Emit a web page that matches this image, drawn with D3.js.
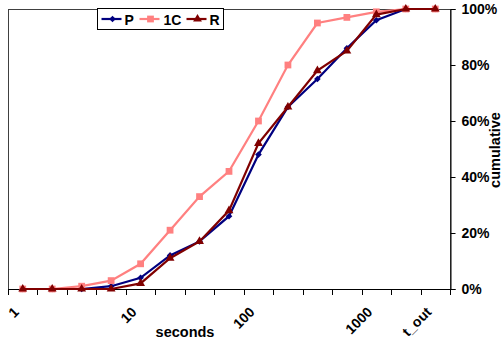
<!DOCTYPE html>
<html>
<head>
<meta charset="utf-8">
<script src="https://cdn.jsdelivr.net/npm/d3@7/dist/d3.min.js"></script>
<style>
  body { margin: 0; background: #fff; }
  svg { display: block; font-family: "Liberation Sans", Arial, sans-serif; font-weight: bold; }
</style>
</head>
<body>
<svg id="chart" width="503" height="343"></svg>
<script>
// x categories (log-ish bins), only some carry a label
var tickLabels = ["1", "", "", "", "10", "", "", "", "100", "", "", "", "1000", "", "t_out"];
var seriesNames = ["P", "1C", "R"];
// cumulative percentages
var valuesP = [0, 0, 0, 1, 4, 12, 17, 26, 48, 65, 75, 86, 96, 100, 100];
var values1C = [0, 0, 1, 3, 9, 21, 33, 42, 60, 80, 95, 97, 99, 100, 100];
var valuesR = [0, 0, 0, 0, 2, 11, 17, 28, 52, 65, 78, 85, 98, 100, 100];
var yTicks = [0, 20, 40, 60, 80, 100];

var series = [
  { name: seriesNames[0], values: valuesP, color: "#000080", symbol: "diamond" },
  { name: seriesNames[1], values: values1C, color: "#ff8080", symbol: "square" },
  { name: seriesNames[2], values: valuesR, color: "#800000", symbol: "triangle" },
];

var dimensions = {
  width: 503,
  height: 343,
  margin: { top: 9, right: 53, bottom: 54, left: 8 },
};
dimensions.boundedWidth =
  dimensions.width - dimensions.margin.left - dimensions.margin.right;
dimensions.boundedHeight =
  dimensions.height - dimensions.margin.top - dimensions.margin.bottom;

var svg = d3.select("#chart");

var xScale = d3
  .scaleBand()
  .domain(d3.range(tickLabels.length))
  .range([0, dimensions.boundedWidth]);

var yScale = d3
  .scaleLinear()
  .domain([0, 100])
  .range([dimensions.boundedHeight, 0]);

var xAt = (i) => xScale(i) + xScale.bandwidth() / 2;

var bounds = svg
  .append("g")
  .attr("transform", `translate(${dimensions.margin.left},${dimensions.margin.top})`);

// plot area frame
bounds
  .append("rect")
  .attr("x", 0.5)
  .attr("y", 0.5)
  .attr("width", dimensions.boundedWidth)
  .attr("height", dimensions.boundedHeight)
  .attr("fill", "none")
  .attr("stroke", "#404040")
  .attr("stroke-width", 1);

// x axis: ticks between categories, labels rotated
var xAxisG = bounds
  .append("g")
  .attr("transform", `translate(0,${dimensions.boundedHeight})`);
xAxisG
  .append("line")
  .attr("x1", 0)
  .attr("x2", dimensions.boundedWidth)
  .attr("y1", 0.5)
  .attr("y2", 0.5)
  .attr("stroke", "#000");
xAxisG
  .selectAll(".xtick")
  .data(d3.range(tickLabels.length + 1))
  .enter()
  .append("line")
  .attr("x1", (d) => Math.round(d * xScale.step()) + 0.5)
  .attr("x2", (d) => Math.round(d * xScale.step()) + 0.5)
  .attr("y1", 0)
  .attr("y2", 6)
  .attr("stroke", "#000");
xAxisG
  .selectAll(".xlabel")
  .data(tickLabels)
  .enter()
  .append("text")
  .attr("text-anchor", "end")
  .attr("font-size", 14)
  .attr("transform", (d, i) => `translate(${xAt(i) - 3},${24}) rotate(-45)`)
  .text((d) => d);

// y axis on the right
var yAxis = d3
  .axisRight(yScale)
  .tickValues(yTicks)
  .tickSize(5)
  .tickPadding(6)
  .tickFormat((d) => d + "%");
var yAxisG = bounds
  .append("g")
  .attr("transform", `translate(${dimensions.boundedWidth + 0.5},0)`)
  .call(yAxis);
yAxisG.select(".domain").attr("stroke", "#000");
yAxisG.selectAll(".tick line").attr("stroke", "#000");
yAxisG
  .selectAll(".tick text")
  .attr("font-size", 14)
  .attr("font-family", "Liberation Sans, Arial, sans-serif")
  .attr("font-weight", "bold")
  .attr("fill", "#000");

// axis titles
svg
  .append("text")
  .attr("x", 185)
  .attr("y", 337)
  .attr("text-anchor", "middle")
  .attr("font-size", 14.5)
  .text("seconds");
svg
  .append("text")
  .attr("transform", "translate(499.5,150) rotate(-90)")
  .attr("text-anchor", "middle")
  .attr("font-size", 14.5)
  .text("cumulative");

function symbolPath(kind) {
  if (kind === "diamond") return d3.symbol(d3.symbolSquare, 22)();
  if (kind === "square") return d3.symbol(d3.symbolSquare, 46)();
  return d3.symbol(d3.symbolTriangle, 34)();
}

var line = d3
  .line()
  .x((d, i) => xAt(i))
  .y((d) => yScale(d));

series.forEach(function (s) {
  var g = bounds.append("g");
  g.append("path")
    .datum(s.values)
    .attr("d", line)
    .attr("fill", "none")
    .attr("stroke", s.color)
    .attr("stroke-width", 2.2);
  g.selectAll("path.mark")
    .data(s.values)
    .enter()
    .append("path")
    .attr("class", "mark")
    .attr("d", symbolPath(s.symbol))
    .attr("transform", (d, i) =>
      `translate(${xAt(i)},${yScale(d)})` + (s.symbol === "diamond" ? " rotate(45)" : "")
    )
    .attr("fill", s.color);
});

// legend
var legend = svg.append("g").attr("transform", "translate(97.5,8.5)");
legend
  .append("rect")
  .attr("width", 126)
  .attr("height", 21)
  .attr("fill", "#fff")
  .attr("stroke", "#000");
var legendX = [4, 42, 89];
var legendTextX = [27, 66, 112];
series.forEach(function (s, i) {
  legend
    .append("line")
    .attr("x1", legendX[i])
    .attr("x2", legendX[i] + 20)
    .attr("y1", 10.5)
    .attr("y2", 10.5)
    .attr("stroke", s.color)
    .attr("stroke-width", 2.2);
  legend
    .append("path")
    .attr("d", symbolPath(s.symbol))
    .attr("transform", `translate(${legendX[i] + 11},10.5)` + (s.symbol === "diamond" ? " rotate(45)" : ""))
    .attr("fill", s.color);
  legend
    .append("text")
    .attr("x", legendTextX[i])
    .attr("y", 16)
    .attr("font-size", 14)
    .text(s.name);
});
</script>
</body>
</html>
